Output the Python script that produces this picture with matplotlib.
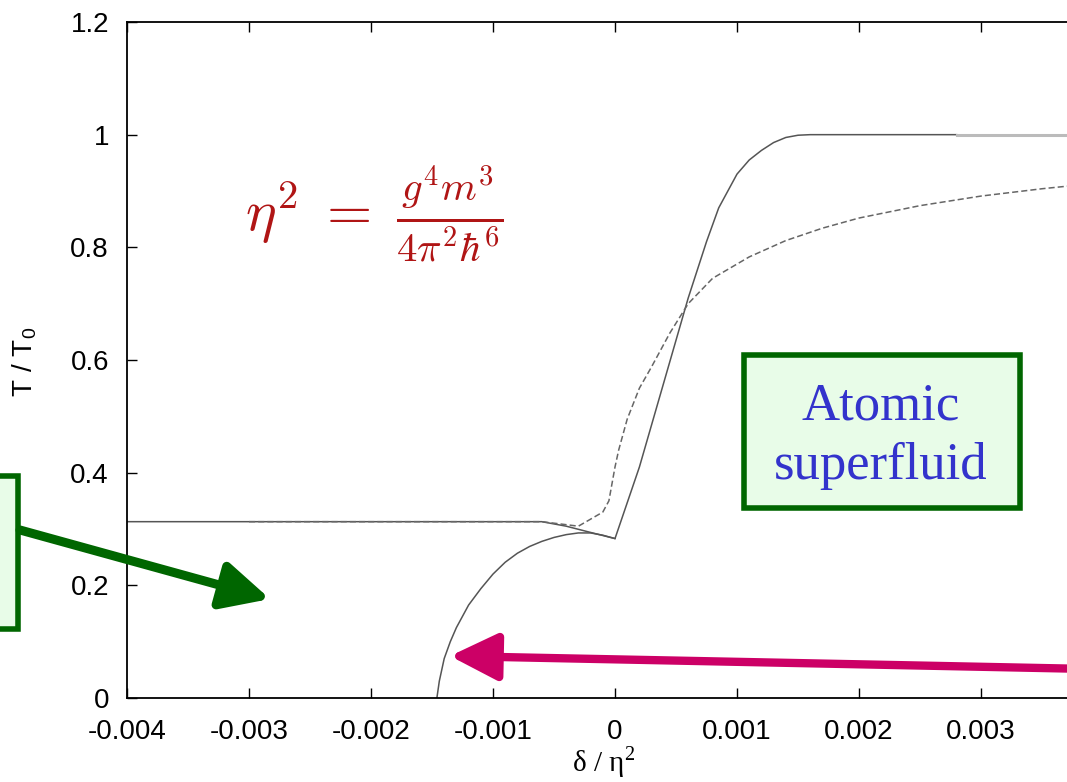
import matplotlib.pyplot as plt
from matplotlib.patches import FancyArrowPatch, Rectangle

plt.rcParams['font.family'] = ['Liberation Sans', 'DejaVu Sans']
plt.rcParams['mathtext.fontset'] = 'cm'

# upper solid branch (T / T0 vs delta / eta^2)
upperX = [-0.004, -0.0006, -0.0004, -0.00022, 0.0, 0.0002, 0.0004, 0.0006,
          0.00075, 0.00085, 0.00095, 0.001, 0.0011, 0.0012, 0.0013, 0.0014,
          0.0015, 0.0016, 0.002, 0.0028]
upperY = [0.313, 0.313, 0.305, 0.295, 0.283, 0.41, 0.56, 0.71,
          0.81, 0.87, 0.91, 0.93, 0.955, 0.972, 0.986, 0.995,
          0.999, 1.0, 1.0, 1.0]

# flat tail at T = 1 (lighter)
tailX = [0.0028, 0.004]
tailY = [1.0, 1.0]

# lower solid branch
lowerX = [-0.00146, -0.00144, -0.0014, -0.00135, -0.0013, -0.0012, -0.0011,
          -0.001, -0.0009, -0.0008, -0.0007, -0.0006, -0.0005, -0.0004,
          -0.0003, -0.0002, -0.0001, 0.0]
lowerY = [0.0, 0.03, 0.07, 0.1, 0.125, 0.165, 0.194, 0.22, 0.241, 0.257,
          0.269, 0.278, 0.285, 0.29, 0.293, 0.293, 0.289, 0.283]

# dashed curve
dashX = [-0.003, -0.0006, -0.0003, -0.0001, -0.00005, 0.0, 0.00003, 0.0001,
         0.0002, 0.0003, 0.00045, 0.0006, 0.0008, 0.0011, 0.0014, 0.0017,
         0.002, 0.0025, 0.003, 0.0035, 0.004]
dashY = [0.313, 0.313, 0.305, 0.33, 0.35, 0.41, 0.44, 0.495,
         0.55, 0.588, 0.648, 0.70, 0.745, 0.783, 0.812, 0.834,
         0.852, 0.874, 0.891, 0.904, 0.915]

xTicks = [-0.004, -0.003, -0.002, -0.001, 0, 0.001, 0.002, 0.003]
xTickLabels = ['-0.004', '-0.003', '-0.002', '-0.001', '0', '0.001', '0.002', '0.003']
yTicks = [0, 0.2, 0.4, 0.6, 0.8, 1.0, 1.2]
yTickLabels = ['0', '0.2', '0.4', '0.6', '0.8', '1', '1.2']

W, H = 1067, 782
fig = plt.figure(figsize=(W / 100, H / 100), dpi=100)
ax = fig.add_axes([127 / W, 84 / H, 976 / W, 676 / H])

ax.plot(upperX, upperY, color='#555555', lw=1.1)
ax.plot(tailX, tailY, color='#bbbbbb', lw=2.2)
ax.plot(lowerX, lowerY, color='#555555', lw=1.1)
ax.plot(dashX, dashY, color='#666666', lw=1.1, ls=(0, (4, 2)))

ax.set_xlim(-0.004, 0.004)
ax.set_ylim(0, 1.2)
ax.set_xticks(xTicks)
ax.set_xticklabels(xTickLabels)
ax.set_yticks(yTicks)
ax.set_yticklabels(yTickLabels)
ax.tick_params(direction='in', top=True, right=True, length=7, width=1,
               labelsize=20)
ax.tick_params(axis='x', pad=15)
ax.tick_params(axis='y', pad=13)
for s in ax.spines.values():
    s.set_linewidth(1.3)
ax.set_xlabel('δ / η$^\\mathregular{2}$', fontsize=21, family=['Liberation Serif'],
              va='center')
ax.set_ylabel('$\\mathregular{T\\ /\\ T_0}$', fontsize=20, va='center')
ax.xaxis.set_label_coords((604 - 127) / 976, -64 / 676)
ax.yaxis.set_label_coords(-102 / 976, 336 / 676)

# formula
fig.text(245 / W, 1 - 215 / H, r'$\eta^2\;=\;\frac{g^4 m^3}{4\pi^2\hbar^6}$',
         color='#b01515', fontsize=42, va='center', ha='left')

# atomic superfluid box
fig.patches.append(Rectangle((744 / W, 1 - 508 / H), 276 / W, 153 / H,
                             transform=fig.transFigure, facecolor='#e8fce8',
                             edgecolor='#006600', lw=4))
fig.text(881 / W, 1 - 436 / H, 'Atomic\nsuperfluid', color='#3333cc',
         fontsize=38, family=['Liberation Serif'], ha='center', va='center',
         linespacing=1.3)

# left box (cut off)
fig.patches.append(Rectangle((-30 / W, 1 - 629 / H), 48 / W, 153 / H,
                             transform=fig.transFigure, facecolor='#e8fce8',
                             edgecolor='#006600', lw=4))

# arrows
fig.patches.append(FancyArrowPatch((20 / W, 1 - 530 / H), (270 / W, 1 - 599 / H),
                                   transform=fig.transFigure, color='#006600',
                                   arrowstyle='-|>,head_length=1.45,head_width=0.72',
                                   mutation_scale=20, lw=6.5, shrinkA=0, shrinkB=0))
fig.patches.append(FancyArrowPatch((1090 / W, 1 - 669 / H), (450 / W, 1 - 656 / H),
                                   transform=fig.transFigure, color='#cc0066',
                                   arrowstyle='-|>,head_length=1.45,head_width=0.72',
                                   mutation_scale=20, lw=6, shrinkA=0, shrinkB=0))

fig.savefig('out.png', dpi=100)
